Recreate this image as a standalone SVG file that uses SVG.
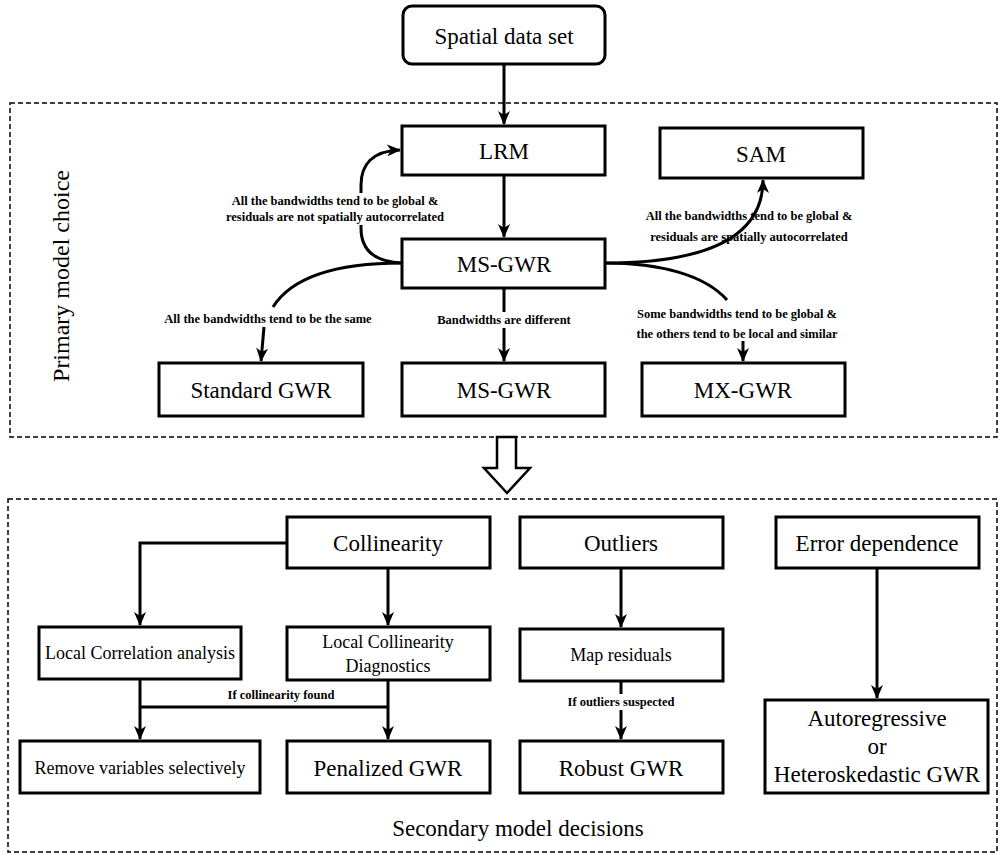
<svg xmlns="http://www.w3.org/2000/svg" width="1001" height="855" viewBox="0 0 1001 855">
<defs>
<style>
.box{fill:#fff;stroke:#000;stroke-width:3}
.dash{fill:none;stroke:#000;stroke-width:1.5;stroke-dasharray:5 3}
.big{font-family:"Liberation Serif","Times New Roman",serif;font-size:23px;fill:#000;text-anchor:middle}
.mid{font-family:"Liberation Serif","Times New Roman",serif;font-size:18px;fill:#000;text-anchor:middle}
.sm{font-family:"Liberation Serif","Times New Roman",serif;font-size:12.5px;font-weight:bold;fill:#000;text-anchor:middle}
.ln{fill:none;stroke:#000;stroke-width:3}
.bg{fill:#fff}
</style>
<marker id="ah" viewBox="0 0 14 12" refX="13" refY="6" markerWidth="14" markerHeight="12" markerUnits="userSpaceOnUse" orient="auto">
<path d="M0,0 L14,6 L0,12 L4,6 z" fill="#000"/>
</marker>
</defs>

<rect class="dash" x="10" y="103" width="987" height="334"/>
<rect class="dash" x="8" y="499" width="989" height="353"/>
<text class="big" style="font-size:24px" transform="translate(69,276) rotate(-90)">Primary model choice</text>
<text class="big" x="518" y="836">Secondary model decisions</text>

<g id="connectors">
<path class="ln" d="M504,64 L504,124" marker-end="url(#ah)"/>
<path class="ln" d="M504,175 L504,237" marker-end="url(#ah)"/>
<path class="ln" d="M402,263 C375,262 361,250 361,228 L361,185 C361,165 372,151 400,150" marker-end="url(#ah)"/>
<path class="ln" d="M605,263 C700,263 763,240 763,180" marker-end="url(#ah)"/>
<path class="ln" d="M605,263 C660,263 705,275 727,300"/>
<path class="ln" d="M743,341 L743,361" marker-end="url(#ah)"/>
<path class="ln" d="M402,263 C330,263 290,280 273,307"/>
<path class="ln" d="M264,327 L261,361" marker-end="url(#ah)"/>
<path class="ln" d="M504,288 L504,361" marker-end="url(#ah)"/>
<polygon points="497,437 516,437 516,468 530,468 507,493 484,468 497,468" fill="#fff" stroke="#000" stroke-width="2.5" stroke-linejoin="miter"/>
<path class="ln" d="M287,543 L140,543 L140,625" marker-end="url(#ah)"/>
<path class="ln" d="M388,568 L388,625" marker-end="url(#ah)"/>
<path class="ln" d="M140,679 L140,739" marker-end="url(#ah)"/>
<path class="ln" d="M388,680 L388,739" marker-end="url(#ah)"/>
<path class="ln" d="M140,707 L388,707"/>
<path class="ln" d="M621,568 L621,627" marker-end="url(#ah)"/>
<path class="ln" d="M621,681 L621,739" marker-end="url(#ah)"/>
<path class="ln" d="M877,568 L877,698" marker-end="url(#ah)"/>

<rect class="bg" x="228" y="193" width="215" height="32"/>
<text class="sm" x="335" y="205">All the bandwidths tend to be global &amp;</text>
<text class="sm" x="335" y="221">residuals are not spatially autocorrelated</text>
<text class="sm" x="749" y="220">All the bandwidths tend to be global &amp;</text>
<text class="sm" x="749" y="241">residuals are spatially autocorrelated</text>
<text class="sm" x="737" y="318">Some bandwidths tend to be global &amp;</text>
<text class="sm" x="737" y="338">the others tend to be local and similar</text>
<text class="sm" x="268" y="323">All the bandwidths tend to be the same</text>
<rect class="bg" x="436" y="312" width="136" height="16"/>
<text class="sm" x="504" y="324">Bandwidths are different</text>
<rect class="bg" x="222" y="687" width="118" height="16"/>
<text class="sm" x="281" y="699">If collinearity found</text>
<rect class="bg" x="561" y="694" width="120" height="16"/>
<text class="sm" x="621" y="706">If outliers suspected</text>
</g>

<g id="spatial"><rect class="box" x="403" y="6" width="202" height="58" rx="9"/><text class="big" x="504" y="44">Spatial data set</text></g>
<g id="lrm"><rect class="box" x="402" y="126" width="203" height="49"/><text class="big" x="504" y="159">LRM</text></g>
<g id="sam"><rect class="box" x="660" y="128" width="203" height="50"/><text class="big" x="761" y="162">SAM</text></g>
<g id="msgwr1"><rect class="box" x="402" y="239" width="203" height="49"/><text class="big" x="504" y="272">MS-GWR</text></g>
<g id="stdgwr"><rect class="box" x="159" y="363" width="204" height="53"/><text class="big" x="261" y="398">Standard GWR</text></g>
<g id="msgwr2"><rect class="box" x="402" y="363" width="203" height="53"/><text class="big" x="504" y="398">MS-GWR</text></g>
<g id="mxgwr"><rect class="box" x="642" y="363" width="203" height="53"/><text class="big" x="743" y="398">MX-GWR</text></g>

<g id="collinearity"><rect class="box" x="287" y="517" width="203" height="51"/><text class="big" x="388" y="551">Collinearity</text></g>
<g id="outliers"><rect class="box" x="520" y="517" width="203" height="51"/><text class="big" x="621" y="551">Outliers</text></g>
<g id="errordep"><rect class="box" x="776" y="517" width="203" height="51"/><text class="big" x="877" y="551">Error dependence</text></g>
<g id="localcorr"><rect class="box" x="39" y="627" width="202" height="52"/><text class="mid" x="140" y="659">Local Correlation analysis</text></g>
<g id="localcoll"><rect class="box" x="287" y="627" width="203" height="53"/><text class="mid" x="388" y="648">Local Collinearity</text><text class="mid" x="388" y="672">Diagnostics</text></g>
<g id="mapres"><rect class="box" x="520" y="629" width="203" height="52"/><text class="mid" x="621" y="661">Map residuals</text></g>
<g id="remove"><rect class="box" x="20" y="741" width="240" height="52"/><text class="mid" x="140" y="774">Remove variables selectively</text></g>
<g id="penalized"><rect class="box" x="287" y="741" width="203" height="52"/><text class="big" x="388" y="776">Penalized GWR</text></g>
<g id="robust"><rect class="box" x="520" y="741" width="203" height="52"/><text class="big" x="621" y="776">Robust GWR</text></g>
<g id="autoreg"><rect class="box" x="765" y="700" width="223" height="93"/><text class="big" x="877" y="726">Autoregressive</text><text class="big" x="877" y="754">or</text><text class="big" x="877" y="782">Heteroskedastic GWR</text></g>
</svg>
